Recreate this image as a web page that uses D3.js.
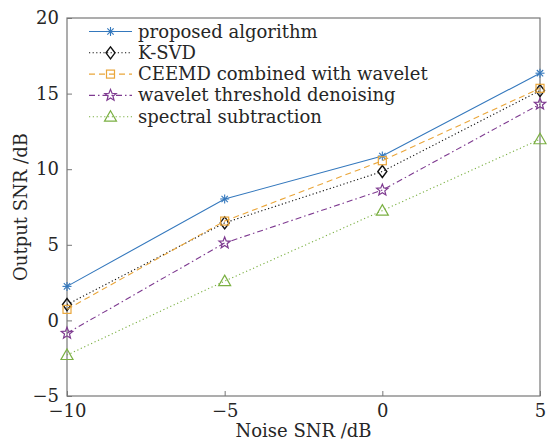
<!DOCTYPE html>
<html>
<head>
<meta charset="utf-8">
<script src="https://cdn.jsdelivr.net/npm/d3@7"></script>
<style>
  body { margin: 0; background: #fff; }
  text { font-family: "DejaVu Serif", serif; fill: #262626; }
</style>
</head>
<body>
<svg id="chart" width="547" height="441"></svg>
<script>
// data
var noiseSNR = [-10, -5, 0, 5];
var proposed = [2.25, 8.03, 10.87, 16.35];
var ksvd     = [1.05, 6.45, 9.85, 15.2];
var ceemd    = [0.73, 6.57, 10.56, 15.35];
var wavelet  = [-0.85, 5.12, 8.62, 14.3];
var spectral = [-2.29, 2.6, 7.26, 11.98];
var xTicks = [-10, -5, 0, 5];
var yTicks = [-5, 0, 5, 10, 15, 20];

var series = [
    {name: "proposed algorithm", values: proposed, color: "#3478bd", dash: null, marker: "asterisk"},
    {name: "K-SVD", values: ksvd, color: "#111", dash: "1.2,2.4", marker: "diamond"},
    {name: "CEEMD combined with wavelet", values: ceemd, color: "#eaa63a", dash: "6,4", marker: "square"},
    {name: "wavelet threshold denoising", values: wavelet, color: "#7e3a90", dash: "6,3,1.5,3", marker: "star"},
    {name: "spectral subtraction", values: spectral, color: "#7bb043", dash: "1.2,2.6", marker: "triangle"}
];

(function () {
    var svg = d3.select("#chart");
    var pLeft = 67, pRight = 540, pTop = 18, pBottom = 396;

    var x = d3.scaleLinear().domain([-10, 5]).range([pLeft, pRight]);
    var y = d3.scaleLinear().domain([-5, 20]).range([pBottom, pTop]);

    var axisColor = "#777";
    var fmt = function (d) { return d < 0 ? "\u2212" + Math.abs(d) : d; };

    // box
    svg.append("rect")
        .attr("x", pLeft).attr("y", pTop)
        .attr("width", pRight - pLeft).attr("height", pBottom - pTop)
        .attr("fill", "none").attr("stroke", axisColor).attr("stroke-width", 1.2);

    // axes with inward ticks
    var xAxis = svg.append("g").attr("transform", "translate(0," + pBottom + ")")
        .call(d3.axisBottom(x).tickValues(xTicks).tickSizeInner(-5).tickSizeOuter(0).tickPadding(8).tickFormat(fmt));
    var yAxis = svg.append("g").attr("transform", "translate(" + pLeft + ",0)")
        .call(d3.axisLeft(y).tickValues(yTicks).tickSizeInner(-5).tickSizeOuter(0).tickPadding(8).tickFormat(fmt));

    [xAxis, yAxis].forEach(function (g) {
        g.select(".domain").remove();
        g.selectAll("line").attr("stroke", axisColor);
        g.selectAll("text").style("font-size", "18px").attr("fill", "#262626")
            .style("font-family", "'DejaVu Serif', serif");
    });

    // axis titles
    svg.append("text")
        .attr("x", (pLeft + pRight) / 2).attr("y", 437)
        .attr("text-anchor", "middle").style("font-size", "18px")
        .text("Noise SNR /dB");
    svg.append("text")
        .attr("transform", "translate(27," + (pTop + pBottom) / 2 + ") rotate(-90)")
        .attr("text-anchor", "middle").style("font-size", "18px")
        .text("Output SNR /dB");

    // marker drawing
    var drawMarker = function (g, type, color, cx, cy) {
        if (type === "asterisk") {
            var r = 4.5;
            [0, 45, 90, 135].forEach(function (a) {
                var rad = a * Math.PI / 180;
                g.append("line")
                    .attr("x1", cx - r * Math.cos(rad)).attr("y1", cy - r * Math.sin(rad))
                    .attr("x2", cx + r * Math.cos(rad)).attr("y2", cy + r * Math.sin(rad))
                    .attr("stroke", color).attr("stroke-width", 1.1);
            });
        } else if (type === "diamond") {
            g.append("path")
                .attr("d", "M" + cx + "," + (cy - 6) + "L" + (cx + 4.5) + "," + cy + "L" + cx + "," + (cy + 6) + "L" + (cx - 4.5) + "," + cy + "Z")
                .attr("fill", "none").attr("stroke", color).attr("stroke-width", 1.4);
        } else if (type === "square") {
            g.append("rect").attr("x", cx - 4).attr("y", cy - 4).attr("width", 8).attr("height", 8)
                .attr("fill", "none").attr("stroke", color).attr("stroke-width", 1.2);
        } else if (type === "star") {
            var pts = [];
            for (var i = 0; i < 10; i++) {
                var rr = i % 2 === 0 ? 6 : 2.6;
                var ang = -Math.PI / 2 + i * Math.PI / 5;
                pts.push([cx + rr * Math.cos(ang), cy + rr * Math.sin(ang)]);
            }
            g.append("path").attr("d", "M" + pts.join("L") + "Z")
                .attr("fill", "none").attr("stroke", color).attr("stroke-width", 1.2);
        } else if (type === "triangle") {
            g.append("path")
                .attr("d", "M" + cx + "," + (cy - 6) + "L" + (cx + 6) + "," + (cy + 4.5) + "L" + (cx - 6) + "," + (cy + 4.5) + "Z")
                .attr("fill", "none").attr("stroke", color).attr("stroke-width", 1.2);
        }
    };

    var line = d3.line()
        .x(function (d) { return x(d[0]); })
        .y(function (d) { return y(d[1]); });

    series.forEach(function (s) {
        var pts = noiseSNR.map(function (v, i) { return [v, s.values[i]]; });
        var g = svg.append("g");
        g.append("path").datum(pts)
            .attr("d", line)
            .attr("fill", "none").attr("stroke", s.color).attr("stroke-width", 1.1)
            .attr("stroke-dasharray", s.dash);
        pts.forEach(function (p) { drawMarker(g, s.marker, s.color, x(p[0]), y(p[1])); });
    });

    // legend
    var legend = svg.append("g");
    series.forEach(function (s, i) {
        var ly = 31.5 + i * 21.3;
        var g = legend.append("g");
        g.append("line").attr("x1", 89).attr("x2", 132).attr("y1", ly).attr("y2", ly)
            .attr("stroke", s.color).attr("stroke-width", 1.1).attr("stroke-dasharray", s.dash);
        drawMarker(g, s.marker, s.color, 110.5, ly);
        g.append("text").attr("x", 138).attr("y", ly + 6)
            .style("font-size", "18px").text(s.name);
    });
})();
</script>
</body>
</html>
